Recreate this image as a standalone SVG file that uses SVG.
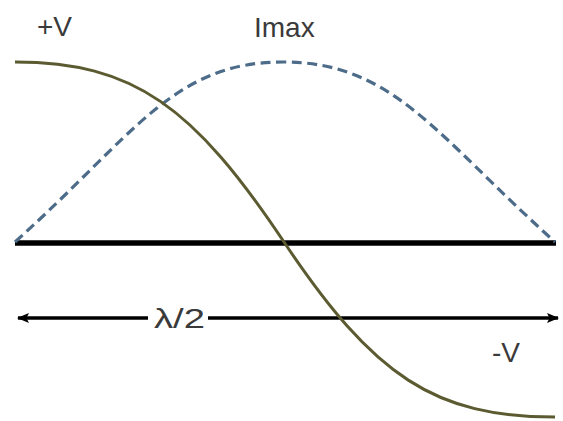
<svg xmlns="http://www.w3.org/2000/svg" width="563" height="421" viewBox="0 0 563 421">
  <style>
    .lbl { font-family: "Liberation Sans", Arial, sans-serif; font-size: 28px; fill: #3a3a3a; }
    .axis { stroke: #000; fill: none; }
    .volt { stroke: #5b5a30; stroke-width: 3; fill: none; }
    .curr { stroke: #4d6c8a; stroke-width: 3.2; fill: none; stroke-dasharray: 10 5.5; }
  </style>
  <defs>
    <marker id="ah" viewBox="0 0 12 10" refX="11" refY="5" markerWidth="12" markerHeight="10" markerUnits="userSpaceOnUse" orient="auto-start-reverse">
      <path d="M0,0 L12,5 L0,10 L2.5,5 Z" fill="#000"/>
    </marker>
  </defs>
  <rect width="563" height="421" fill="#fff"/>
  <g id="baseline">
    <line class="axis" x1="15" y1="243" x2="556" y2="243" stroke-width="5.5"/>
  </g>
  <g id="connectors">
    <line class="axis" x1="148" y1="318" x2="18" y2="318" stroke-width="3.5" marker-end="url(#ah)"/>
    <line class="axis" x1="208" y1="318" x2="558" y2="318" stroke-width="3.5" marker-end="url(#ah)"/>
  </g>
  <g id="current">
    <path class="curr" d="M15,242 C135,134 173,62 283,62 C393,62 435,134 555,242"/>
  </g>
  <g id="voltage">
    <path class="volt" d="M15,62 C134,62 194,107 284,242 C374,377 435,417 555,417"/>
  </g>
  <g id="labels">
    <text id="plusV" class="lbl" x="37" y="36">+V</text>
    <text id="imax" class="lbl" x="254" y="37">Imax</text>
    <text id="minusV" class="lbl" x="492" y="362">-V</text>
    <text id="halfwave" class="lbl" x="154" y="328" textLength="51" lengthAdjust="spacingAndGlyphs">λ/2</text>
  </g>
</svg>
